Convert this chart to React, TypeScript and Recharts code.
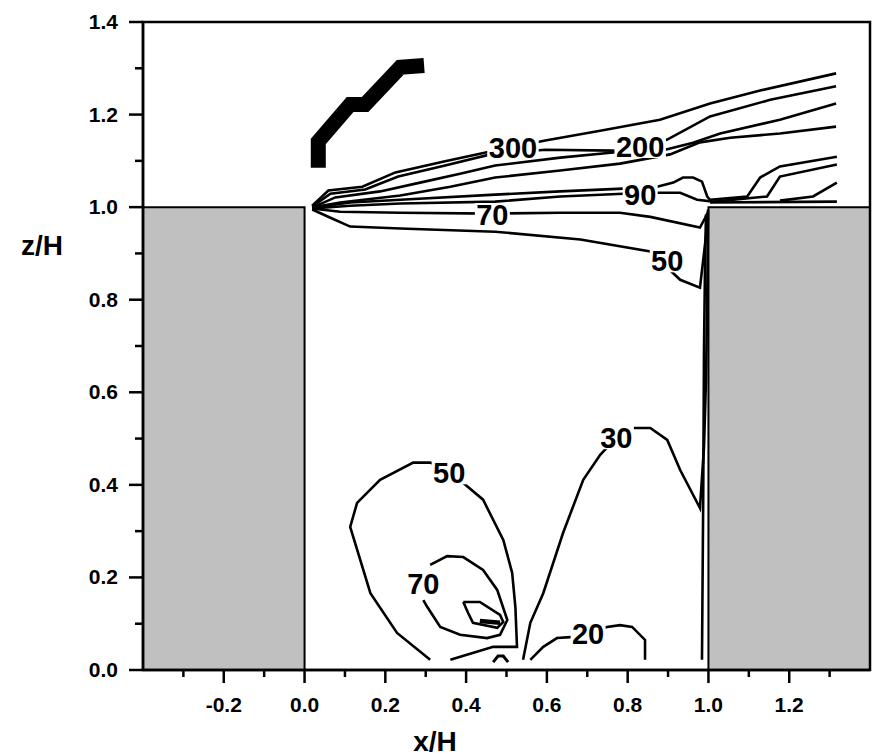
import React from 'react';
import { ComposedChart, Line, XAxis, YAxis, ReferenceArea, Scatter } from 'recharts';

type P = { x: number; z: number };

const xMajorTicks = [-0.2, 0.0, 0.2, 0.4, 0.6, 0.8, 1.0, 1.2];
const xMinorTicks = [-0.3, -0.1, 0.1, 0.3, 0.5, 0.7, 0.9, 1.1, 1.3];
const zMajorTicks = [0.0, 0.2, 0.4, 0.6, 0.8, 1.0, 1.2, 1.4];
const zMinorTicks = [0.1, 0.3, 0.5, 0.7, 0.9, 1.1, 1.3];

const buildings = [
  { x1: -0.4, x2: 0.0, z1: 0.0, z2: 1.0 },
  { x1: 1.0, x2: 1.4, z1: 0.0, z2: 1.0 },
];

const lineA: P[] = [
  { x: 0.019, z: 1.003 }, { x: 0.059, z: 1.036 }, { x: 0.143, z: 1.044 }, { x: 0.225, z: 1.075 },
  { x: 0.348, z: 1.099 }, { x: 0.46, z: 1.12 }, { x: 0.596, z: 1.144 }, { x: 0.732, z: 1.165 },
  { x: 0.88, z: 1.189 }, { x: 1.004, z: 1.224 }, { x: 1.128, z: 1.252 }, { x: 1.316, z: 1.289 },
];
const lineB: P[] = [
  { x: 0.019, z: 1.001 }, { x: 0.064, z: 1.029 }, { x: 0.15, z: 1.038 }, { x: 0.232, z: 1.066 },
  { x: 0.348, z: 1.09 }, { x: 0.46, z: 1.114 }, { x: 0.596, z: 1.124 }, { x: 0.764, z: 1.122 },
  { x: 0.831, z: 1.129 }, { x: 0.898, z: 1.146 }, { x: 1.004, z: 1.196 }, { x: 1.153, z: 1.232 },
  { x: 1.316, z: 1.261 },
];
const lineC: P[] = [
  { x: 0.019, z: 0.999 }, { x: 0.076, z: 1.021 }, { x: 0.187, z: 1.034 }, { x: 0.286, z: 1.053 },
  { x: 0.385, z: 1.072 }, { x: 0.472, z: 1.09 }, { x: 0.633, z: 1.107 }, { x: 0.764, z: 1.118 },
  { x: 0.893, z: 1.124 }, { x: 0.962, z: 1.139 }, { x: 1.029, z: 1.159 }, { x: 1.177, z: 1.189 },
  { x: 1.316, z: 1.224 },
];
const lineD: P[] = [
  { x: 0.019, z: 0.999 }, { x: 0.088, z: 1.01 }, { x: 0.237, z: 1.025 }, { x: 0.361, z: 1.044 },
  { x: 0.472, z: 1.064 }, { x: 0.633, z: 1.079 }, { x: 0.781, z: 1.094 }, { x: 0.905, z: 1.114 },
  { x: 0.979, z: 1.14 }, { x: 1.054, z: 1.15 }, { x: 1.177, z: 1.159 }, { x: 1.316, z: 1.174 },
];
const line90Upper: P[] = [
  { x: 0.019, z: 0.999 }, { x: 0.113, z: 1.01 }, { x: 0.237, z: 1.016 }, { x: 0.472, z: 1.027 },
  { x: 0.633, z: 1.034 }, { x: 0.789, z: 1.04 }, { x: 0.873, z: 1.044 }, { x: 0.913, z: 1.053 },
  { x: 0.937, z: 1.064 }, { x: 0.962, z: 1.064 }, { x: 0.984, z: 1.055 }, { x: 0.997, z: 1.023 },
  { x: 1.004, z: 1.016 }, { x: 1.096, z: 1.023 }, { x: 1.128, z: 1.064 }, { x: 1.177, z: 1.088 },
  { x: 1.318, z: 1.109 },
];
const line90Lower: P[] = [
  { x: 0.019, z: 0.997 }, { x: 0.113, z: 1.003 }, { x: 0.237, z: 1.008 }, { x: 0.472, z: 1.012 },
  { x: 0.633, z: 1.023 }, { x: 0.789, z: 1.029 }, { x: 0.873, z: 1.031 }, { x: 0.93, z: 1.031 },
  { x: 0.972, z: 1.016 }, { x: 1.012, z: 1.012 }, { x: 1.145, z: 1.023 }, { x: 1.177, z: 1.066 },
  { x: 1.318, z: 1.092 },
];
const lineRoofG: P[] = [
  { x: 1.177, z: 1.014 }, { x: 1.259, z: 1.023 }, { x: 1.318, z: 1.053 },
];
const lineRoofH: P[] = [
  { x: 1.004, z: 1.01 }, { x: 1.318, z: 1.012 },
];
const line70Top: P[] = [
  { x: 0.019, z: 0.997 }, { x: 0.088, z: 0.99 }, { x: 0.237, z: 0.988 }, { x: 0.465, z: 0.986 },
  { x: 0.633, z: 0.988 }, { x: 0.781, z: 0.988 }, { x: 0.856, z: 0.979 }, { x: 0.979, z: 0.956 },
  { x: 0.992, z: 0.977 }, { x: 0.999, z: 0.99 },
];
const line50Top: P[] = [
  { x: 0.019, z: 0.995 }, { x: 0.064, z: 0.977 }, { x: 0.113, z: 0.958 }, { x: 0.237, z: 0.954 },
  { x: 0.472, z: 0.947 }, { x: 0.683, z: 0.93 }, { x: 0.856, z: 0.904 }, { x: 0.93, z: 0.843 },
  { x: 0.979, z: 0.826 }, { x: 0.992, z: 0.923 }, { x: 0.999, z: 0.977 },
];
const lineWall: P[] = [
  { x: 0.984, z: 0.022 }, { x: 0.987, z: 0.368 }, { x: 0.989, z: 0.692 }, { x: 0.992, z: 0.908 },
  { x: 0.994, z: 0.984 },
];
const line30: P[] = [
  { x: 0.541, z: 0.022 }, { x: 0.559, z: 0.102 }, { x: 0.591, z: 0.166 }, { x: 0.64, z: 0.296 },
  { x: 0.69, z: 0.411 }, { x: 0.732, z: 0.465 }, { x: 0.772, z: 0.502 }, { x: 0.814, z: 0.523 },
  { x: 0.856, z: 0.523 }, { x: 0.898, z: 0.497 }, { x: 0.93, z: 0.432 }, { x: 0.979, z: 0.35 },
  { x: 0.989, z: 0.482 }, { x: 0.994, z: 0.627 }, { x: 0.997, z: 0.8 }, { x: 0.999, z: 0.995 },
];
const loop50: P[] = [
  { x: 0.311, z: 0.022 }, { x: 0.229, z: 0.08 }, { x: 0.163, z: 0.166 }, { x: 0.113, z: 0.309 },
  { x: 0.13, z: 0.361 }, { x: 0.187, z: 0.411 }, { x: 0.269, z: 0.448 }, { x: 0.311, z: 0.448 },
  { x: 0.356, z: 0.432 }, { x: 0.393, z: 0.404 }, { x: 0.442, z: 0.368 }, { x: 0.492, z: 0.281 },
  { x: 0.514, z: 0.21 }, { x: 0.522, z: 0.136 }, { x: 0.526, z: 0.05 }, { x: 0.467, z: 0.05 },
  { x: 0.361, z: 0.022 },
];
const loop70: P[] = [
  { x: 0.311, z: 0.227 }, { x: 0.353, z: 0.246 }, { x: 0.393, z: 0.244 }, { x: 0.442, z: 0.216 },
  { x: 0.477, z: 0.173 }, { x: 0.502, z: 0.108 }, { x: 0.484, z: 0.076 }, { x: 0.452, z: 0.069 },
  { x: 0.385, z: 0.076 }, { x: 0.336, z: 0.093 }, { x: 0.304, z: 0.136 }, { x: 0.294, z: 0.151 },
];
const loop90: P[] = [
  { x: 0.393, z: 0.147 }, { x: 0.434, z: 0.147 }, { x: 0.484, z: 0.119 }, { x: 0.492, z: 0.104 },
  { x: 0.477, z: 0.091 }, { x: 0.417, z: 0.102 }, { x: 0.405, z: 0.123 }, { x: 0.393, z: 0.147 },
];
const coreDash: P[] = [
  { x: 0.434, z: 0.106 }, { x: 0.484, z: 0.102 },
];
const floorArch: P[] = [
  { x: 0.467, z: 0.017 }, { x: 0.479, z: 0.03 }, { x: 0.492, z: 0.03 }, { x: 0.504, z: 0.017 },
];
const line20: P[] = [
  { x: 0.559, z: 0.022 }, { x: 0.591, z: 0.05 }, { x: 0.625, z: 0.069 }, { x: 0.658, z: 0.071 },
  { x: 0.702, z: 0.082 }, { x: 0.749, z: 0.093 }, { x: 0.781, z: 0.097 }, { x: 0.811, z: 0.093 },
  { x: 0.843, z: 0.065 }, { x: 0.843, z: 0.022 },
];
const highBand: P[] = [
  { x: 0.034, z: 1.085 }, { x: 0.034, z: 1.142 }, { x: 0.113, z: 1.222 }, { x: 0.15, z: 1.222 },
  { x: 0.237, z: 1.302 }, { x: 0.296, z: 1.306 },
];

const contourLabels = [
  { x: 0.516, z: 1.129, text: '300' },
  { x: 0.831, z: 1.131, text: '200' },
  { x: 0.831, z: 1.027, text: '90' },
  { x: 0.465, z: 0.984, text: '70' },
  { x: 0.898, z: 0.884, text: '50' },
  { x: 0.358, z: 0.426, text: '50' },
  { x: 0.294, z: 0.186, text: '70' },
  { x: 0.772, z: 0.502, text: '30' },
  { x: 0.702, z: 0.078, text: '20' },
];

const thinLines: P[][] = [
  lineA, lineB, lineC, lineD, line90Upper, line90Lower, lineRoofG, lineRoofH,
  line70Top, line50Top, lineWall, line30, loop50, loop70, loop90, line20,
];

const FONT = '"Liberation Sans", Arial, Helvetica, sans-serif';
const isIn = (arr: number[], v: number) => arr.some((t) => Math.abs(t - v) < 1e-6);

const XTick = (props: any) => {
  const { x, y, payload } = props;
  const v = payload.value as number;
  const major = isIn(xMajorTicks, v);
  return (
    <g>
      <line x1={x} y1={y} x2={x} y2={y + (major ? 13 : 7)} stroke="#000" strokeWidth={2.5} />
      {major && (
        <text x={x} y={y + 42} textAnchor="middle" fontFamily={FONT} fontWeight="bold" fontSize={21} fill="#000">
          {v.toFixed(1)}
        </text>
      )}
    </g>
  );
};

const ZTick = (props: any) => {
  const { x, y, payload } = props;
  const v = payload.value as number;
  const major = isIn(zMajorTicks, v);
  return (
    <g>
      <line x1={x} y1={y} x2={x - (major ? 14 : 8)} y2={y} stroke="#000" strokeWidth={2.5} />
      {major && (
        <text x={x - 25} y={y + 7} textAnchor="end" fontFamily={FONT} fontWeight="bold" fontSize={21} fill="#000">
          {v.toFixed(1)}
        </text>
      )}
    </g>
  );
};

const LabelShape = (props: any) => {
  const { cx, cy, payload } = props;
  const w = payload.text.length * 16.5 + 2;
  const h = 23;
  return (
    <g>
      <rect x={cx - w / 2} y={cy - h / 2} width={w} height={h} fill="#fff" />
      <text x={cx} y={cy + 10.5} textAnchor="middle" fontFamily={FONT} fontWeight="bold" fontSize={29} fill="#000">
        {payload.text}
      </text>
    </g>
  );
};

export default function App() {
  const xTicks = [...xMinorTicks, ...xMajorTicks].sort((a, b) => a - b);
  const zTicks = [...zMinorTicks, ...zMajorTicks].sort((a, b) => a - b);
  return (
    <div style={{ position: 'absolute', left: 0, top: 0, background: '#fff' }}>
      <ComposedChart width={872} height={756} margin={{ top: 22, right: 2, bottom: 0, left: 0 }}>
        <XAxis
          dataKey="x"
          type="number"
          domain={[-0.4, 1.4]}
          ticks={xTicks}
          interval={0}
          allowDataOverflow
          height={86}
          tickSize={0}
          tickMargin={0}
          tickLine={false}
          axisLine={{ stroke: '#000', strokeWidth: 2.5 }}
          tick={<XTick />}
          label={(p: any) => {
            const vb = p.viewBox;
            return (
              <text x={vb.x + 292} y={vb.y + 81} textAnchor="middle" fontFamily={FONT} fontWeight="bold" fontSize={28} fill="#000">
                x/H
              </text>
            );
          }}
        />
        <YAxis
          dataKey="z"
          type="number"
          domain={[0, 1.4]}
          ticks={zTicks}
          interval={0}
          allowDataOverflow
          width={143}
          tickSize={0}
          tickMargin={0}
          tickLine={false}
          axisLine={{ stroke: '#000', strokeWidth: 2.5 }}
          tick={<ZTick />}
          label={(p: any) => {
            const vb = p.viewBox;
            return (
              <text x={vb.x + 42} y={vb.y + 233} textAnchor="middle" fontFamily={FONT} fontWeight="bold" fontSize={28} fill="#000">
                z/H
              </text>
            );
          }}
        />
        {buildings.map((b, i) => (
          <ReferenceArea
            key={'b' + i}
            x1={b.x1}
            x2={b.x2}
            y1={b.z1}
            y2={b.z2}
            fill="#c0c0c0"
            fillOpacity={1}
            stroke="#000"
            strokeWidth={2}
            ifOverflow="hidden"
          />
        ))}
        <ReferenceArea x1={-0.4} x2={1.4} y1={0} y2={1.4} fill="none" stroke="#000" strokeWidth={2.5} />
        {thinLines.map((d, i) => (
          <Line
            key={'c' + i}
            name={'c' + i}
            data={d}
            dataKey="z"
            type="linear"
            stroke="#000"
            strokeWidth={2.6}
            dot={false}
            activeDot={false}
            isAnimationActive={false}
          />
        ))}
        <Line data={coreDash} dataKey="z" name="dash" type="linear" stroke="#000" strokeWidth={4.5} dot={false} activeDot={false} isAnimationActive={false} />
        <Line data={floorArch} dataKey="z" name="arch" type="linear" stroke="#000" strokeWidth={3} dot={false} activeDot={false} isAnimationActive={false} />
        <Line
          data={highBand}
          dataKey="z"
          name="band"
          type="linear"
          stroke="#000"
          strokeWidth={15}
          strokeLinejoin="miter"
          strokeLinecap="butt"
          dot={false}
          activeDot={false}
          isAnimationActive={false}
        />
        <Scatter data={contourLabels} dataKey="z" shape={<LabelShape />} isAnimationActive={false} />
      </ComposedChart>
    </div>
  );
}
